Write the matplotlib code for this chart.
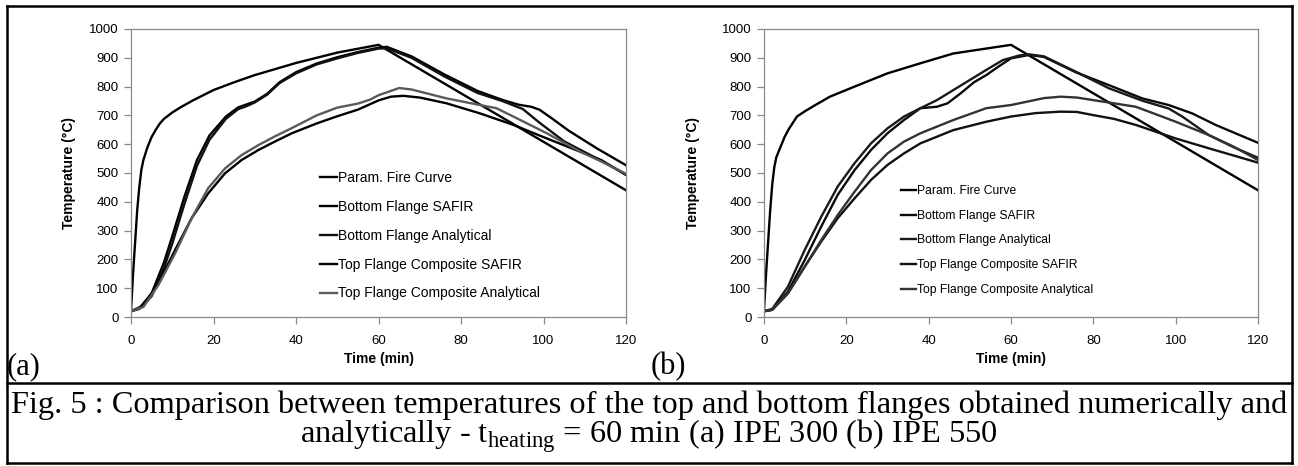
import matplotlib
matplotlib.use("Agg")
from matplotlib import pyplot as plt
from matplotlib.lines import Line2D
from matplotlib import font_manager

# ---- data ----
# panel (a) IPE 300
fire_a_t = [0, 0.5, 1, 1.5, 2, 2.5, 3, 4, 5, 6, 7, 8, 10, 12, 15, 20, 25, 30, 40, 50, 60, 120]
fire_a_T = [20, 150, 260, 370, 450, 510, 545, 590, 625, 650, 672, 688, 710, 728, 752, 788, 815, 840, 882, 918, 945, 440]

bfs_a_t = [0, 2, 5, 8, 10, 13, 16, 19, 23, 26, 28, 30, 33, 36, 40, 45, 50, 55, 60, 62,
           68, 76, 84, 90, 94, 97, 99, 102, 106, 113, 120]
bfs_a_T = [20, 30, 82, 190, 280, 420, 545, 630, 696, 728, 738, 748, 775, 815, 850, 880, 902, 920, 935, 938,
           905, 842, 785, 754, 737, 730, 720, 690, 648, 585, 527]

bfa_a_t = [0, 2, 5, 8, 10, 13, 16, 19, 23, 26, 28, 30, 33, 36, 40, 45, 50, 55, 60, 62,
           68, 76, 84, 90, 95, 99, 105, 113, 120]
bfa_a_T = [20, 28, 72, 170, 255, 395, 525, 615, 688, 722, 732, 745, 772, 812, 846, 877, 898, 917, 932, 933,
           900, 835, 778, 750, 722, 675, 610, 550, 495]

tfs_a_t = [0, 3, 6.6, 10.7, 14.7, 18.7, 22.8, 26.8, 30.9, 35, 39, 45, 50, 55, 60, 63, 66, 70,
           76.5, 84.6, 92.7, 100.8, 108.9, 114, 120]
tfs_a_T = [20, 40, 117, 233, 343, 429, 499, 545, 580, 610, 638, 672, 697, 720, 752, 765, 768, 762,
           742, 707, 667, 620, 574, 545, 493]

tfa_a_t = [0, 3, 6.6, 10.7, 14.7, 18.7, 22.8, 26.8, 30.9, 35, 39, 45, 50, 55, 58, 60, 65, 68,
           76.5, 84.6, 88.6, 92.7, 100.8, 108.9, 114, 120]
tfa_a_T = [20, 35, 110, 221, 343, 447, 516, 562, 597, 628, 656, 700, 727, 741, 755, 770, 795, 790,
           759, 736, 725, 696, 638, 574, 540, 497]

# panel (b) IPE 550
fire_b_t = [0, 0.5, 1, 1.5, 2, 2.5, 3, 4, 5, 6, 8, 10, 12, 16, 22, 30, 38, 46, 60, 120]
fire_b_T = [20, 150, 260, 370, 460, 520, 555, 590, 625, 652, 696, 715, 732, 765, 800, 846, 881, 915, 945, 440]

bfs_b_t = [0, 2, 5.8, 9.9, 13.9, 17.9, 22, 26, 30, 34, 38, 42, 44.6, 47.8, 51, 54, 57, 60, 64.4,
           68, 75.7, 83.8, 91.9, 98.3, 104, 109.7, 115, 120]
bfs_b_T = [20, 25, 88, 198, 314, 424, 510, 580, 638, 684, 725, 730, 742, 777, 815, 840, 870, 898, 910,
           903, 850, 805, 759, 736, 707, 667, 635, 605]

bfa_b_t = [0, 2, 5.8, 9.9, 13.9, 17.9, 22, 26, 30, 34, 38, 42, 46, 50, 54, 58, 62, 64.4,
           68, 75.7, 83.8, 91.9, 98.3, 101.6, 108, 114, 120]
bfa_b_T = [20, 28, 105, 233, 348, 453, 534, 603, 655, 696, 725, 753, 788, 823, 858, 892, 908, 912,
           905, 852, 794, 751, 724, 696, 632, 590, 553]

tfs_b_t = [0, 2, 5.8, 9.9, 13.9, 17.9, 22, 26, 30, 34, 38, 46, 54, 60, 66, 72, 76, 80, 85,
           90.3, 100, 108, 120]
tfs_b_T = [20, 25, 82, 175, 262, 343, 412, 476, 528, 568, 603, 649, 678, 696, 708, 713, 712, 701, 688,
           667, 620, 586, 536]

tfa_b_t = [0, 2, 5.8, 9.9, 13.9, 17.9, 22, 26, 30, 34, 38, 46, 54, 60, 64, 68, 72, 76, 80, 85,
           90.3, 95, 100, 108, 114, 120]
tfa_b_T = [20, 25, 82, 175, 267, 354, 435, 510, 568, 609, 638, 684, 725, 736, 748, 760, 765, 762, 753, 742,
           730, 705, 678, 632, 592, 545]

labels = ["Param. Fire Curve", "Bottom Flange SAFIR", "Bottom Flange Analytical",
          "Top Flange Composite SAFIR", "Top Flange Composite Analytical"]

W, H = 1298, 466
plt.rcParams['font.family'] = ['Liberation Sans', 'DejaVu Sans']
plt.rcParams['mathtext.fontset'] = 'custom'
plt.rcParams['mathtext.rm'] = 'Liberation Serif'

fig = plt.figure(figsize=(W / 100, H / 100), dpi=100)

names = [f.name for f in font_manager.fontManager.ttflist]
narrow = 'Liberation Sans Narrow' if 'Liberation Sans Narrow' in names else 'Liberation Sans'
narrow_size = 10 if narrow == 'Liberation Sans Narrow' else 8.7


def px_axes(left, right, top, bottom):
    return [left / W, 1 - bottom / H, (right - left) / W, (bottom - top) / H]


def draw_panel(ax, series, colors, leg_x, leg_y, leg_font, leg_size, leg_space, ylab_x):
    for (t, T), c, lab in zip(series, colors, labels):
        ax.plot(t, T, color=c, lw=1.7, label=lab)
    ax.set_xlim(0, 120)
    ax.set_ylim(0, 1000)
    ax.set_xticks(range(0, 121, 20))
    ax.set_yticks(range(0, 1001, 100))
    for s in ax.spines.values():
        s.set_color('#8a8a8a')
        s.set_linewidth(0.9)
    ax.tick_params(axis='both', direction='out', color='#8a8a8a', width=0.9,
                   labelsize=9.5, length=5)
    ax.tick_params(axis='x', pad=8)
    ax.tick_params(axis='y', pad=4)
    ax.set_xlabel("Time (min)", fontsize=10, fontweight='bold')
    ax.set_ylabel("Temperature (°C)", fontsize=10, fontweight='bold')
    ax.xaxis.set_label_coords(0.5, -0.123)
    ax.yaxis.set_label_coords(ylab_x, 0.5)
    ax.legend(loc='upper left', bbox_to_anchor=(leg_x, leg_y), frameon=False,
              borderaxespad=0, borderpad=0, handlelength=1.2, handletextpad=0.1,
              labelspacing=leg_space, prop={'family': leg_font, 'size': leg_size})


ax1 = fig.add_axes(px_axes(131, 626, 29, 317))
draw_panel(ax1,
           [(fire_a_t, fire_a_T), (bfs_a_t, bfs_a_T), (bfa_a_t, bfa_a_T),
            (tfs_a_t, tfs_a_T), (tfa_a_t, tfa_a_T)],
           ['#000000', '#000000', '#111111', '#000000', '#5a5a5a'],
           0.382, 0.507, 'Liberation Sans', 10, 1.07, -0.111)

ax2 = fig.add_axes(px_axes(764, 1258, 29, 317))
draw_panel(ax2,
           [(fire_b_t, fire_b_T), (bfs_b_t, bfs_b_T), (bfa_b_t, bfa_b_T),
            (tfs_b_t, tfs_b_T), (tfa_b_t, tfa_b_T)],
           ['#000000', '#0a0a0a', '#1a1a1a', '#111111', '#333333'],
           0.278, 0.458, narrow, narrow_size, 1.05, -0.129)

# panel letters
fig.text(7 / W, 1 - 367 / H, "(a)", family='Liberation Serif', fontsize=22, va='center')
fig.text(651 / W, 1 - 367 / H, "(b)", family='Liberation Serif', fontsize=22, va='center')

# frame around figure and caption
lw = 1.8
x0, x1, y0, y1, ym = 6.5 / W, 1292 / W, 1 - 5.7 / H, 1 - 463 / H, 1 - 383 / H
for xs, ys in [([x0, x1], [y0, y0]), ([x0, x1], [y1, y1]), ([x0, x0], [y0, y1]),
               ([x1, x1], [y0, y1]), ([x0, x1], [ym, ym])]:
    fig.add_artist(Line2D(xs, ys, color='black', lw=lw, transform=fig.transFigure))

fig.text(649 / W, 1 - 405 / H,
         "Fig. 5 : Comparison between temperatures of the top and bottom flanges obtained numerically and",
         family='Liberation Serif', fontsize=23.3, ha='center', va='center')
fig.text(649 / W, 1 - 436 / H,
         r"analytically - t$_{\mathrm{heating}}$ = 60 min (a) IPE 300 (b) IPE 550",
         family='Liberation Serif', fontsize=23.3, ha='center', va='center')

plt.savefig("out.png", dpi=100)
